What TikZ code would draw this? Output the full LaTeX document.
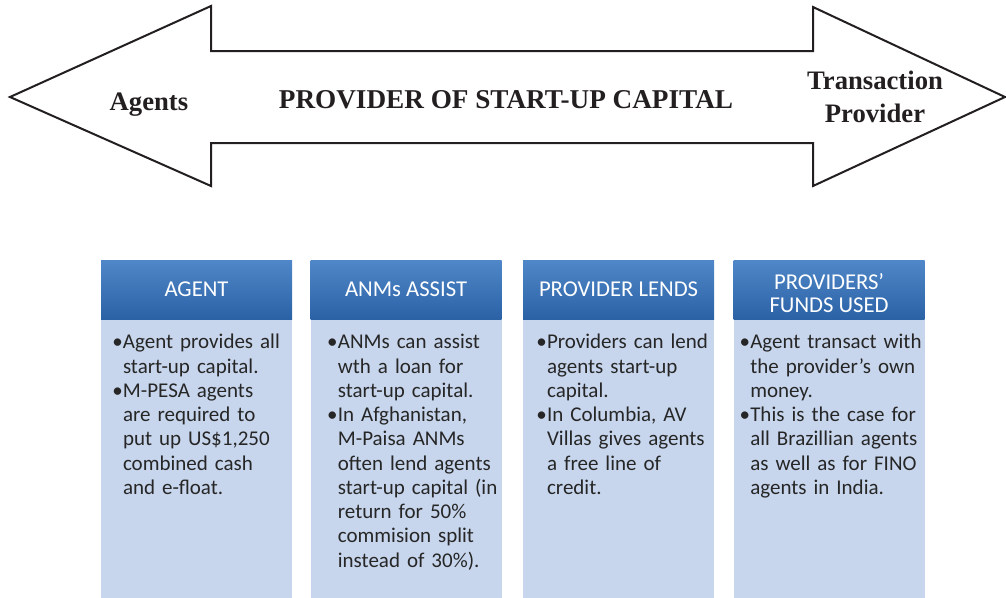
\documentclass[tikz,border=0pt]{standalone}
\usepackage{fontspec}
\setmainfont{Liberation Serif}
\newfontfamily\calibri{Carlito}
\usetikzlibrary{positioning}

\definecolor{headtop}{HTML}{4F87C8}
\definecolor{headbot}{HTML}{2B62A6}
\definecolor{bodyblue}{HTML}{C7D6ED}
\definecolor{inkgray}{HTML}{231F20}
\definecolor{bodyink}{HTML}{262626}

\newcommand{\bul}{\par\noindent\hangindent=8pt\hangafter=1\makebox[8pt][l]{•}}

\tikzset{
  bigarrow/.style={draw=inkgray, line width=1.5pt, miter limit=20, fill=white},
  arrowlabel/.style={font=\fontsize{20}{24.75}\selectfont\bfseries, text=inkgray, align=center, inner sep=0pt},
  header/.style={minimum width=143.25pt, minimum height=44.25pt, inner sep=0pt,
    top color=headtop, bottom color=headbot, text=white, align=center,
    font=\calibri\fontsize{17}{17.25}\selectfont},
  bodybox/.style={minimum width=143.25pt, minimum height=208.5pt, inner sep=0pt, fill=bodyblue},
  bodytext/.style={inner sep=0pt, text width=140pt, align=left, text=bodyink,
    font=\calibri\fontsize{15.75}{18.2}\selectfont}
}

\begin{document}
\begin{tikzpicture}[x=0.75pt, y=-0.75pt]
  \useasboundingbox (0,0) rectangle (1006,597);

  \draw[bigarrow] (10,97) -- (211,6) -- (211,51) -- (813,51) -- (813,7) -- (1005,97)
    -- (813,186) -- (813,143) -- (211,143) -- (211,186) -- cycle;
  \node[arrowlabel, anchor=base] (agents) at (149,110) {Agents};
  \node[arrowlabel, anchor=base, font=\fontsize{20.4}{24.75}\selectfont\bfseries] (capital) at (506,108) {PROVIDER OF START-UP CAPITAL};
  \node[arrowlabel] (transaction) at (875,97) {Transaction\\Provider};

  \node[header] (agent) at (196.5,289.5) {AGENT};
  \node[header, right = 13.5pt of agent] (anms) {ANMs ASSIST};
  \node[header, right = 15.75pt of anms] (lends) {PROVIDER LENDS};
  \node[header, right = 14.25pt of lends] (funds) {\rule{0pt}{17pt}PROVIDERS’\\FUNDS USED};

  \node[bodybox, below = 0pt of agent] (agentbody) {};
  \node[bodybox, below = 0pt of anms] (anmsbody) {};
  \node[bodybox, below = 0pt of lends] (lendsbody) {};
  \node[bodybox, below = 0pt of funds] (fundsbody) {};

  \node[bodytext, below right = 3.75pt and 8.5pt of agentbody.north west] (agenttext) {%
    \bul\strut Agent provides all\newline start-up capital.
    \bul M-PESA agents\newline are required to\newline put up US\$1,250\newline combined cash\newline and e-float.\par};
  \node[bodytext, below right = 3.75pt and 12.5pt of anmsbody.north west] (anmstext) {%
    \bul\strut ANMs can assist\newline wth a loan for\newline start-up capital.
    \bul In Afghanistan,\newline M-Paisa ANMs\newline often lend agents\newline start-up capital (in\newline return for 50\%\newline commision split\newline instead of 30\%).\par};
  \node[bodytext, below right = 3.75pt and 10pt of lendsbody.north west] (lendstext) {%
    \bul\strut Providers can lend\newline agents start-up\newline capital.
    \bul In Columbia, AV\newline Villas gives agents\newline a free line of\newline credit.\par};
  \node[bodytext, below right = 3.75pt and 4.5pt of fundsbody.north west] (fundstext) {%
    \bul\strut Agent transact with\newline the provider’s own\newline money.
    \bul This is the case for\newline all Brazillian agents\newline as well as for FINO\newline agents in India.\par};
\end{tikzpicture}
\end{document}
